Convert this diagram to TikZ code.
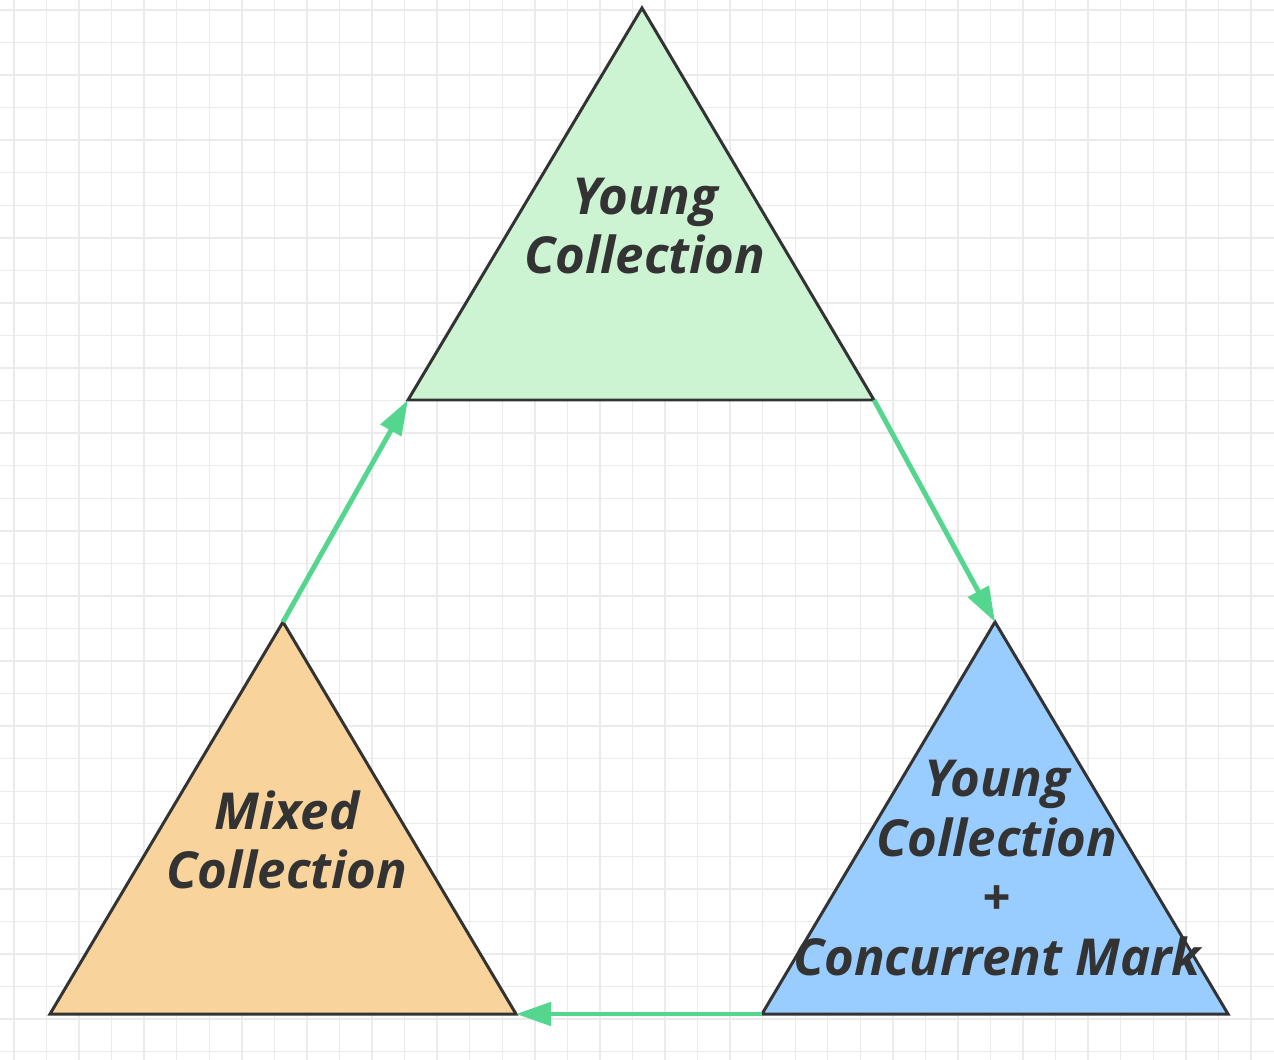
\documentclass[tikz,border=0pt]{standalone}
\usepackage{fontspec}
\setmainfont{Open Sans}
\usetikzlibrary{arrows.meta}
\definecolor{youngfill}{RGB}{204,243,210}
\definecolor{markfill}{RGB}{153,204,255}
\definecolor{mixedfill}{RGB}{248,211,156}
\definecolor{flowgreen}{RGB}{84,214,142}
\definecolor{textgray}{RGB}{51,51,51}
\begin{document}
\begin{tikzpicture}[x=0.02cm,y=-0.02cm,
  gridline/.style = {draw=black!8, line width=0.8pt},
  phase/.style = {draw=black!80, line width=1.7pt, line join=miter},
  label/.style = {align=center, text=textgray, font=\fontsize{29}{34}\selectfont\bfseries\itshape},
  flow/.style = {draw=flowgreen, line width=2.8pt, -{Triangle[length=0.7cm,width=0.46cm]}}]

  \useasboundingbox (0,0) rectangle (1274,1060);
  \fill[white] (0,0) rectangle (1274,1060);
  \foreach \i in {0,...,38} \draw[gridline] (14+\i*32.55,0) -- (14+\i*32.55,1060);
  \foreach \i in {0,...,32} \draw[gridline] (0,10+\i*32.55) -- (1274,10+\i*32.55);

  % corners of the three phases
  \coordinate (youngtop) at (642,8);
  \coordinate (youngleft) at (408,400);
  \coordinate (youngright) at (874,400);
  \coordinate (marktop) at (995,622);
  \coordinate (markleft) at (762,1014);
  \coordinate (markright) at (1228,1014);
  \coordinate (mixedtop) at (283,622);
  \coordinate (mixedleft) at (50,1014);
  \coordinate (mixedright) at (516,1014);

  \draw[phase, fill=youngfill] (youngtop) -- (youngleft) -- (youngright) -- cycle;
  \draw[phase, fill=markfill] (marktop) -- (markleft) -- (markright) -- cycle;
  \draw[phase, fill=mixedfill] (mixedtop) -- (mixedleft) -- (mixedright) -- cycle;

  \node[label] (young) at (645,226) {Young\\Collection};
  \node[label] (mark) at (997,868) {Young\\Collection\\+\\Concurrent Mark};
  \node[label] (mixed) at (287,840) {Mixed\\Collection};

  \draw[flow] (youngright) -- (marktop);
  \draw[flow] (markleft) -- (mixedright);
  \draw[flow] (mixedtop) -- (youngleft);
\end{tikzpicture}
\end{document}
